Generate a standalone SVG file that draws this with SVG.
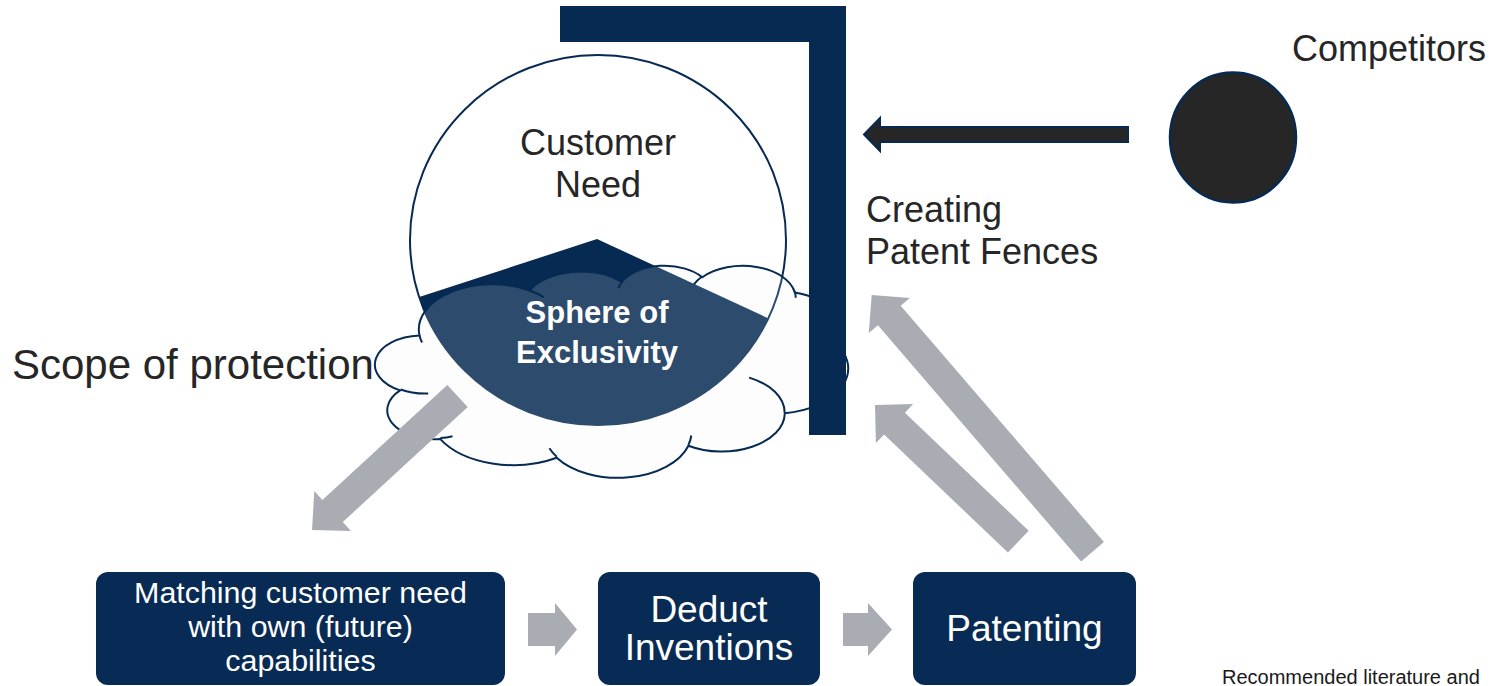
<svg xmlns="http://www.w3.org/2000/svg" width="1495" height="686" viewBox="0 0 1495 686">
<defs>
<style>
.lbl{font-family:"Liberation Sans",Arial,sans-serif;fill:#262626}
.wht{font-family:"Liberation Sans",Arial,sans-serif;fill:#ffffff}
.box{fill:#072b54}
.gray{fill:#a9acb3}
.navy{fill:#062a52}
.outl{fill:none;stroke:#062a52;stroke-width:2}
</style>
<clipPath id="needClip"><ellipse cx="598" cy="240" rx="188" ry="185"/></clipPath>
</defs>
<rect width="1495" height="686" fill="#ffffff"/>

<g id="scope-label">
<text class="lbl" x="12" y="379" font-size="42">Scope of protection</text>
</g>

<g id="customer-need">
<ellipse cx="598" cy="240" rx="188" ry="185" fill="#ffffff"/>
<polygon clip-path="url(#needClip)" points="395,305 597,239 800,333 800,440 395,440" class="navy"/>
<ellipse cx="598" cy="240" rx="188" ry="185" class="outl"/>
<text class="lbl" x="598" y="155" font-size="36" text-anchor="middle">Customer</text>
<text class="lbl" x="598" y="197" font-size="36" text-anchor="middle">Need</text>
</g>

<g id="cloud">
<path d="M419.5,335.5 A73.63,45.1 0 0 1 529.7,290.5 A58.15,35.66 0 0 1 621.9,281.8 A47.59,29.17 0 0 1 702.3,277.2 A52.96,32.36 0 0 1 794.8,292.4 A58.15,35.69 0 0 1 833,340.9 A73.87,45.25 0 0 1 784.8,413.2 A63.07,38.61 0 0 1 688.4,445.7 A73.62,45.22 0 0 1 556.7,457.7 A84.17,51.74 0 0 1 440.3,439.1 A47.54,29.04 0 0 1 400.1,390.4 A47.37,29.17 0 0 1 419.5,335.5 Z" fill="#f4f4f4" fill-opacity="0.17" stroke="#062a52" stroke-width="2"/>
<path class="outl" d="M428.2,393.5 A47.37,29.17 0 0 1 400.6,389.5 M452.5,436.3 A47.54,29.04 0 0 1 440.4,438.1 M556.7,456.8 A73.62,45.22 0 0 1 549.4,448.3 M691.3,435.5 A73.62,45.22 0 0 1 688.4,444.9 M749.1,377.6 A63.07,38.61 0 0 1 784.6,412.7 M832.7,340.3 A58.15,35.69 0 0 1 816.9,353.5 M794.8,291.6 A52.96,32.36 0 0 1 795.7,297.8 M694,284.4 A52.96,32.36 0 0 1 702.1,276.5 M618.4,288.2 A47.59,29.17 0 0 1 622.3,281.3 M529.6,290.5 A73.63,45.1 0 0 1 543.8,297.1 M422,342.5 A73.63,45.1 0 0 1 419.5,335.5"/>
</g>

<g id="sphere-of-exclusivity">
<text class="wht" x="597" y="323" font-size="31" font-weight="bold" text-anchor="middle">Sphere of</text>
<text class="wht" x="597" y="363" font-size="31" font-weight="bold" text-anchor="middle">Exclusivity</text>
</g>

<g id="patent-fence">
<path class="navy" d="M560,6 H846 V435 H809 V42 H560 Z"/>
</g>

<g id="fence-label">
<text class="lbl" x="866" y="222" font-size="36">Creating</text>
<text class="lbl" x="866" y="264" font-size="36">Patent Fences</text>
</g>

<g id="competitors">
<ellipse cx="1233" cy="137.5" rx="63" ry="65" fill="#262626" stroke="#062a52" stroke-width="2.5"/>
<text class="lbl" x="1292" y="61" font-size="36">Competitors</text>
</g>

<g id="box-matching">
<rect class="box" x="96" y="572" width="409" height="113" rx="12"/>
<text class="wht" x="300.5" y="603" font-size="30.4" text-anchor="middle">Matching customer need</text>
<text class="wht" x="300.5" y="637" font-size="30.4" text-anchor="middle">with own (future)</text>
<text class="wht" x="300.5" y="671" font-size="30.4" text-anchor="middle">capabilities</text>
</g>

<g id="box-deduct">
<rect class="box" x="598" y="572" width="222" height="113" rx="12"/>
<text class="wht" x="709" y="622" font-size="37" text-anchor="middle">Deduct</text>
<text class="wht" x="709" y="660" font-size="37" text-anchor="middle">Inventions</text>
</g>

<g id="box-patenting">
<rect class="box" x="913" y="572" width="223" height="113" rx="12"/>
<text class="wht" x="1024.5" y="641" font-size="37" text-anchor="middle">Patenting</text>
</g>

<g id="connectors">
<polygon class="gray" points="467.7,407 342.8,522 350.9,530.9 312,530 314.3,491.1 322.4,500 447.3,385"/>
<polygon class="gray" points="528,613 555,613 555,603 577,629.5 555,656 555,646 528,646"/>
<polygon class="gray" points="843,613 868,613 868,603 892,629.5 868,656 868,646 843,646"/>
<polygon class="gray" points="1103.9,541.9 900.7,305.7 909.8,297.9 871.7,295 868.8,333.1 877.9,325.3 1081.1,561.5"/>
<polygon class="gray" points="1028.7,530.8 904.9,412.7 913.1,404.1 875,405 875.9,443.1 884.1,434.5 1007.9,552.6"/>
<polygon points="864,134.5 880,118 880,127 1128,127 1128,142 880,142 880,151" fill="#262626" stroke="#062a52" stroke-width="2"/>
</g>

<g id="footer">
<text x="1222" y="684" font-size="20" font-family="Liberation Sans, Arial, sans-serif" fill="#1a1a1a">Recommended literature and</text>
</g>
</svg>
